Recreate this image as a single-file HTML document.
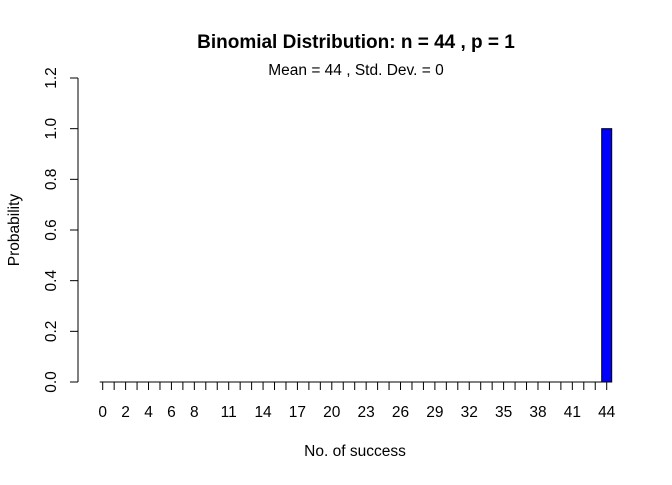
<!DOCTYPE html>
<html><head><meta charset="utf-8"><style>
html,body{margin:0;padding:0;background:#fff}
svg text{font-family:"Liberation Sans",Arial,sans-serif;fill:#000}
</style></head><body>
<svg id="chart" width="672" height="480" viewBox="0 0 672 480">
<text x="356" y="48" font-size="19" font-weight="bold" text-anchor="middle">Binomial Distribution: n = 44 , p = 1</text>
<text x="356" y="75" font-size="15.5" text-anchor="middle">Mean = 44 , Std. Dev. = 0</text>
<text x="355" y="456" font-size="15.5" text-anchor="middle">No. of success</text>
<text transform="translate(19,230) rotate(-90)" font-size="15.5" text-anchor="middle">Probability</text>
<g id="yaxis"></g>
<g id="xaxis"></g>
<g id="bars"></g>
</svg>
<script>
const categories = Array.from({length:45},(_,i)=>i);
const probabilities = [0,0,0,0,0,0,0,0,0,0,0,0,0,0,0,0,0,0,0,0,0,0,0,0,0,0,0,0,0,0,0,0,0,0,0,0,0,0,0,0,0,0,0,0,1];
const yTicks = [0,0.2,0.4,0.6,0.8,1.0,1.2];
const yTickLabels = ["0.0","0.2","0.4","0.6","0.8","1.0","1.2"];
const xLabels = [0,2,4,6,8,11,14,17,20,23,26,29,32,35,38,41,44];
const NS="http://www.w3.org/2000/svg";
const y0=382, yPer=(382-78)/1.2;
function yScale(v){return y0 - v*yPer;}
const x0=102.7, step=(606.7-102.7)/44;
function xScale(i){return x0 + i*step;}
function mk(t,a,p){const e=document.createElementNS(NS,t);for(const k in a)e.setAttribute(k,a[k]);p.appendChild(e);return e;}
const ya=document.getElementById('yaxis');
let l=mk('line',{x1:78,x2:78,y1:yScale(1.2),y2:yScale(0),stroke:'#000'},ya);


yTicks.forEach((v,i)=>{
  const t=mk('line',{x1:70,x2:78,y1:yScale(v),y2:yScale(v),stroke:'#000'},ya);
  
  
  const tx=mk('text',{transform:`translate(56,${yScale(v)}) rotate(-90)`,'font-size':15.5,'text-anchor':'middle'},ya);
  tx.textContent=yTickLabels[i];
  
  
});
const xa=document.getElementById('xaxis');
l=mk('line',{x1:xScale(0)-3,x2:xScale(44),y1:382,y2:382,stroke:'#000'},xa);


categories.forEach(c=>{
  const t=mk('line',{x1:xScale(c),x2:xScale(c),y1:382,y2:390,stroke:'#000'},xa);
  
  
});
xLabels.forEach(c=>{
  const tx=mk('text',{x:xScale(c),y:417,'font-size':15.5,'text-anchor':'middle'},xa);
  tx.textContent=c;
  
  
});
const bg=document.getElementById('bars');
const bw=10;
categories.forEach((c,i)=>{
  const v=probabilities[i];
  if(v<=0) return;
  const r=mk('rect',{x:xScale(c)-bw/2,y:yScale(v),width:bw,height:yScale(0)-yScale(v),fill:'#0000ff',stroke:'#000','stroke-width':1},bg);
  
  
});
</script>
</body></html>
